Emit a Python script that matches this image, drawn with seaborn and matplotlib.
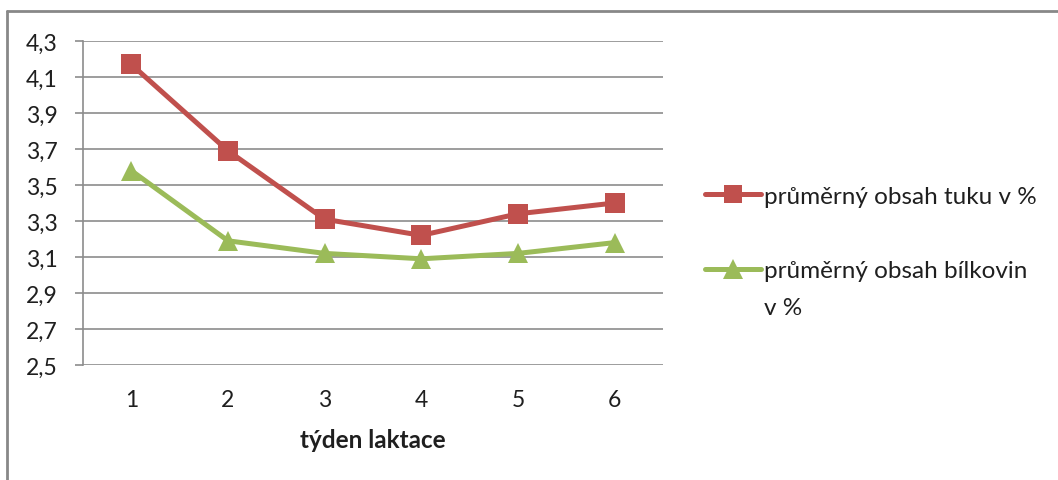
import matplotlib
matplotlib.use("Agg")
import matplotlib.pyplot as plt
from matplotlib.lines import Line2D
import pandas as pd
import seaborn as sns

# Weekly averages of milk composition during lactation
weeks = [1, 2, 3, 4, 5, 6]
fat_pct = [4.17, 3.69, 3.31, 3.22, 3.34, 3.40]
protein_pct = [3.58, 3.19, 3.12, 3.09, 3.12, 3.18]
fat_label = "průměrný obsah tuku v %"
protein_label = "průměrný obsah bílkovin"
protein_label_cont = "v %"
y_ticks = [2.5, 2.7, 2.9, 3.1, 3.3, 3.5, 3.7, 3.9, 4.1, 4.3]
x_title = "týden laktace"

sns.set_theme(style="white")
plt.rcParams["font.family"] = ["Lato", "DejaVu Sans"]

df = pd.DataFrame({
    "week": weeks * 2,
    "value": fat_pct + protein_pct,
    "series": [fat_label] * len(weeks) + [protein_label] * len(weeks),
})

red = "#C0504D"
green = "#9BBB59"
grid_col = "#8C8C8C"
text_col = "#1f1f1f"
fs = 16.5
fs_leg = 17.5
lw = 3.6

fig = plt.figure(figsize=(10.58, 4.81), dpi=100)
ax = fig.add_axes([0.0784, 0.2391, 0.5483, 0.6736])

sns.lineplot(
    data=df, x="week", y="value", hue="series", style="series",
    palette={fat_label: red, protein_label: green},
    markers={fat_label: "s", protein_label: "^"},
    dashes=False, linewidth=lw, markersize=14, markeredgewidth=0,
    ax=ax, legend=False,
)

ax.set_xlim(0.5, 6.5)
ax.set_ylim(2.5, 4.3)
ax.set_yticks(y_ticks)
ax.set_yticklabels([f"{v:.1f}".replace(".", ",") for v in y_ticks])
ax.set_xticks(weeks)
ax.set_xticklabels([str(w) for w in weeks])

ax.grid(axis="y", color=grid_col, linewidth=1.2)
ax.grid(axis="x", visible=False)
ax.set_axisbelow(True)
for side in ["top", "right", "bottom"]:
    ax.spines[side].set_visible(False)
ax.spines["left"].set_color(grid_col)
ax.spines["left"].set_linewidth(1.2)

ax.tick_params(axis="y", which="major", length=6, width=1.2, color=grid_col,
               pad=12, labelsize=fs, labelcolor=text_col, left=True)
ax.tick_params(axis="x", which="major", length=0, pad=17, labelsize=fs,
               labelcolor=text_col)

ax.set_xlabel(x_title, fontsize=fs_leg, fontweight="bold", labelpad=13,
              color=text_col)
ax.set_ylabel("")

handles = [
    Line2D([], [], color=red, linewidth=lw, marker="s", markersize=13.5,
           markeredgewidth=0),
    Line2D([], [], color=green, linewidth=lw, marker="^", markersize=14,
           markeredgewidth=0),
]
leg = fig.legend(
    handles, [fat_label, protein_label],
    loc="upper left", bbox_to_anchor=(0.666, 0.612),
    frameon=False, fontsize=fs_leg, handlelength=2.3, handletextpad=0.15,
    labelspacing=2.2, labelcolor=text_col, borderaxespad=0, borderpad=0,
)
fig.canvas.draw()
# Second line of the protein label, aligned under its first line
protein_text = leg.get_texts()[1]
bb = protein_text.get_window_extent()
fig.text(bb.x0 / fig.bbox.width, (bb.y0 - 37) / fig.bbox.height,
         protein_label_cont, fontsize=fs_leg, color=text_col,
         ha="left", va="bottom")

# Chart frame
fig.add_artist(Line2D([7 / 1058, 1.0], [1 - 12 / 481, 1 - 12 / 481],
                      transform=fig.transFigure, color="#888888", linewidth=2))
fig.add_artist(Line2D([7 / 1058, 7 / 1058], [0.0, 1 - 12 / 481],
                      transform=fig.transFigure, color="#888888", linewidth=2))

fig.savefig("out.png", dpi=100)
